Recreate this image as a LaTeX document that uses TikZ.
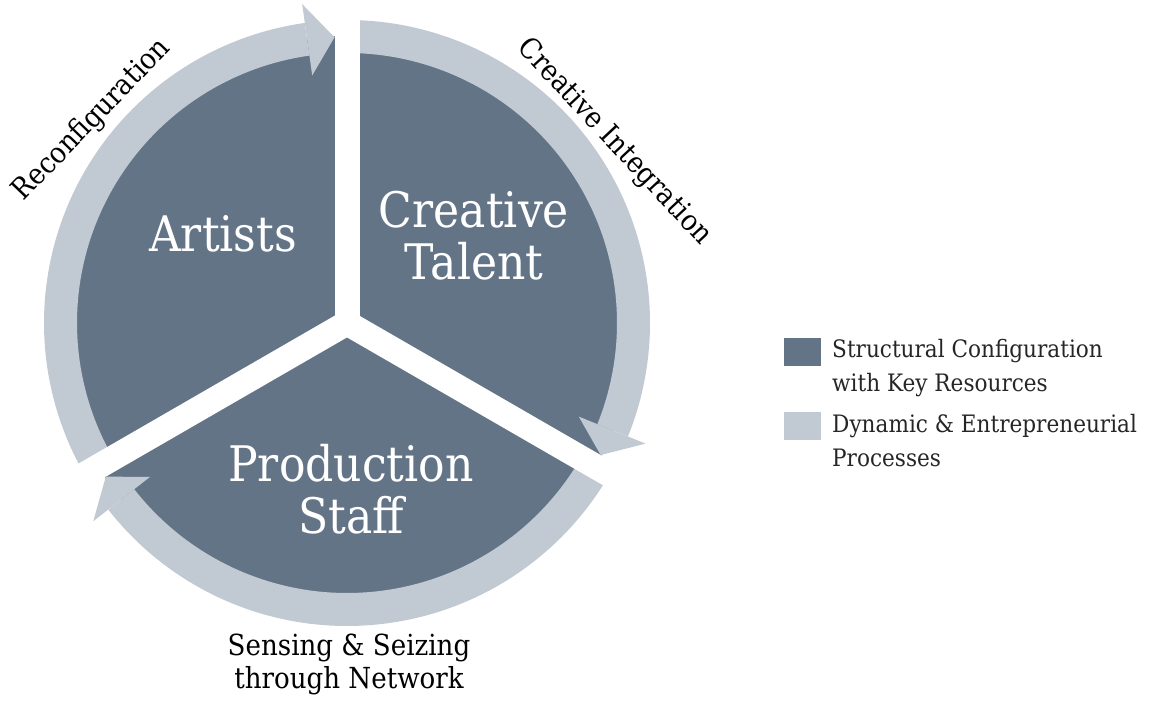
\documentclass[tikz,border=0pt]{standalone}
\usepackage{fontspec}
\setmainfont{DejaVu Serif}[FakeStretch=0.9]
\definecolor{darkslate}{RGB}{100,116,135}
\definecolor{lightslate}{RGB}{193,201,210}
\tikzset{
  bigtxt/.style={text=white, inner sep=0pt, align=center, font=\fontsize{49}{52}\selectfont},
  sidetxt/.style={text=black, inner sep=0pt, align=center, font=\fontsize{29}{33}\selectfont},
  legtxt/.style={text=black!85, inner sep=0pt, align=left, anchor=north west, font=\fontsize{24}{34.5}\selectfont},
  keybox/.style={minimum width=37pt, minimum height=28pt, inner sep=0pt},
  ringband/.style={lightslate, line width=33pt},
  gapbar/.style={white, line width=25pt},
  arrowtip/.style={fill=lightslate}
}
\begin{document}
\begin{tikzpicture}[x=1pt,y=1pt]
\useasboundingbox (0,0) rectangle (1161,703);
\begin{scope}[shift={(347,380)}]
  \coordinate (c) at (0,0);
  \fill[darkslate] (c) circle[radius=287];
  % ring bands
  \draw[ringband] (211:286.5) arc[start angle=211, end angle=98, radius=286.5];
  \draw[ringband] (91:286.5) arc[start angle=91, end angle=-22, radius=286.5];
  \draw[ringband] (-31:286.5) arc[start angle=-31, end angle=-142, radius=286.5];
  % gaps
  \coordinate (g1) at (90:345);
  \coordinate (g2) at (210:345);
  \coordinate (g3) at (330:345);
  \draw[gapbar] (c) -- (g1);
  \draw[gapbar] (c) -- (g2);
  \draw[gapbar] (c) -- (g3);
  % arrow heads
  \fill[arrowtip] (98:250) -- (98:322) -- (92.5:286) -- cycle;
  \fill[arrowtip] (-22:250) -- (-22:322) -- (-27.5:286) -- cycle;
  \fill[arrowtip] (218:250) -- (218:322) -- (212.5:286) -- cycle;
\end{scope}
% sector labels
\node[bigtxt, anchor=base] (artists) at (223,451) {Artists};
\node[bigtxt] (talent) at (474,467) {Creative\\Talent};
\node[bigtxt] (staff) at (351,214) {Production\\Staff};
% process labels
\node[sidetxt, rotate=46] (reconf) at (92,583) {Reconfiguration};
\node[sidetxt, rotate=-47] (integ) at (614,561) {Creative Integration};
\node[sidetxt] (sensing) at (349,39) {Sensing \& Seizing\\through Network};
% legend
\node[keybox, fill=darkslate] (key1) at (802.5,351) {};
\node[keybox, fill=lightslate] (key2) at (802.5,276.5) {};
\node[legtxt] (leg1) at (832,364) {Structural Configuration\\with Key Resources};
\node[legtxt] (leg2) at (832,289) {Dynamic \& Entrepreneurial\\Processes};
\end{tikzpicture}
\end{document}
